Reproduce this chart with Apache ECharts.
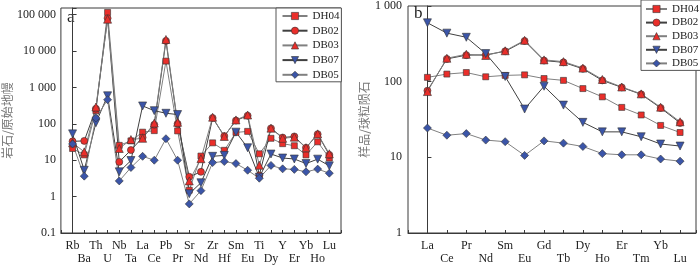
<!DOCTYPE html>
<html><head><meta charset="utf-8">
<script src="https://cdn.jsdelivr.net/npm/echarts@6/dist/echarts.min.js"></script>
<style>html,body{margin:0;padding:0;background:#fff}#c{width:700px;height:266px}</style>
</head><body><div id="c"></div>
<script>
// Panel a: primitive-mantle normalised spider diagram
const catsA = ['Rb','Ba','Th','U','Nb','Ta','La','Ce','Pb','Pr','Sr','Nd','Zr','Hf','Sm','Eu','Ti','Dy','Y','Er','Yb','Ho','Lu'];
const aDH04 = [21,14,230,115000,25.6,34,59,65,5300,64,1.5,13,30,18.7,58,62,15,40,28.5,25,14,32,11.5];
const aDB02 = [33,34,260,80000,9,19,42,95,19000,100,3.5,4.8,145,46,123,168,3.8,75,42,45,22,52,14];
const aDB03 = [30,17,290,75000,21,37,40,105,20800,110,2.7,11,152,45,128,175,7.3,76,40,43,22,53,15];
const aDB07 = [53,5.3,107,590,4.8,9.8,310,230,195,180,1.2,2.4,12.8,13.6,59,22,3.4,14.8,11.5,10.8,8.1,10.7,7];
const aDB05 = [28,3.65,145,460,2.7,6.3,12.8,10,39,10,0.63,1.46,8.6,9.2,8.1,5.3,3.2,7.2,5.8,5.6,4.8,5.7,4.4];
const yTicksA = [0.1,1,10,100,1000,10000,100000];

// Panel b: chondrite normalised REE patterns
const catsB = ['La','Ce','Pr','Nd','Sm','Eu','Gd','Tb','Dy','Ho','Er','Tm','Yb','Lu'];
const bDH04 = [114,126,132,116,121,123,110,104,81,63,45.7,36.3,26.4,21.3];
const bDB02 = [76,200,224,226,252,345,190,180,148,104,84,68,45,28.5];
const bDB03 = [74,204,230,222,256,352,194,184,151,107,85,69,46,29.5];
const bDB07 = [600,438,386,235,117,43.5,87,49,29,21.7,21.7,18.7,15,14.1];
const bDB05 = [24.4,19.6,20.6,16.9,16.1,10.6,16.5,15.4,13.9,11.2,10.8,10.8,9.5,8.9];
const yTicksB = [1,10,100,1000];

const names = ['DH04','DB02','DB03','DB07','DB05'];
const RED = '#ea2e2a', BLUE = '#3b55a8';
const styles = {
  DH04:{symbol:'rect',size:6,fill:RED,line:'#808080',rot:0},
  DB02:{symbol:'circle',size:7,fill:RED,line:'#404040',rot:0},
  DB03:{symbol:'triangle',size:8,fill:RED,line:'#808080',rot:0},
  DB07:{symbol:'triangle',size:8,fill:BLUE,line:'#404040',rot:180},
  DB05:{symbol:'diamond',size:8,fill:BLUE,line:'#808080',rot:0}
};
const SERIF = '"Liberation Serif","Times New Roman",serif';
const CJK = '"Noto Sans CJK SC",sans-serif';
const AX = '#3a3a3a';

function fmtNum(v){
  if (v < 1) return String(Math.round(v*10)/10);
  const s = String(Math.round(v));
  return s.replace(/\B(?=(\d{3})+(?!\d))/g, ' ');
}
function logLabel(ticks){
  return function(v){
    for (const t of ticks) if (Math.abs(Math.log10(v) - Math.log10(t)) < 1e-6) return fmtNum(t);
    return '';
  };
}
function catLabel(cats){
  return function(v){
    const i = Math.round(v);
    if (Math.abs(v - i) > 1e-6 || i < 0 || i >= cats.length) return '';
    return i % 2 ? '\n' + cats[i] : cats[i];
  };
}
function mkSeries(name, arr, idx){
  const s = styles[name];
  return {
    name, type:'line', xAxisIndex:idx, yAxisIndex:idx,
    data: arr.map((v,i)=>[i,v]),
    symbol:s.symbol, symbolSize:s.size, symbolRotate:s.rot,
    lineStyle:{color:s.line,width:1},
    itemStyle:{color:s.fill,borderColor:'#333',borderWidth:0.6},
    emphasis:{disabled:true}, animation:false, clip:false
  };
}
const dataA = {DH04:aDH04,DB02:aDB02,DB03:aDB03,DB07:aDB07,DB05:aDB05};
const dataB = {DH04:bDH04,DB02:bDB02,DB03:bDB03,DB07:bDB07,DB05:bDB05};

const xCommon = {
  type:'value', interval:1,
  axisLine:{show:true,lineStyle:{color:AX,width:1}},
  axisTick:{show:true,inside:true,length:3,lineStyle:{color:AX}},
  splitLine:{show:false},
  axisLabel:{fontFamily:SERIF,fontSize:12,color:'#222',margin:6,lineHeight:13.5,showMinLabel:true,showMaxLabel:true}
};
const yCommon = {
  type:'log', logBase:10,
  axisLine:{show:true,lineStyle:{color:AX,width:1}},
  axisTick:{show:true,inside:true,length:4,lineStyle:{color:AX}},
  splitLine:{show:false},
  nameLocation:'middle', nameRotate:90,
  nameTextStyle:{fontFamily:CJK,fontSize:12,color:'#777'}
};
const legendCommon = {
  data:names, orient:'vertical',
  borderColor:'#555', borderWidth:1, backgroundColor:'#fff',
  textStyle:{fontFamily:SERIF,fontSize:11,color:'#222',lineHeight:12},
  itemStyle:{borderWidth:0.6,borderColor:'#333'},
  itemHeight:9, itemWidth:25, selectedMode:false
};

const chart = echarts.init(document.getElementById('c'), null, {renderer:'canvas'});
chart.setOption({
  animation:false,
  grid:[
    {left:59, top:8, width:282, height:227, show:true, borderColor:AX, borderWidth:1},
    {left:408, top:3, width:288, height:232, show:true, borderColor:AX, borderWidth:1}
  ],
  xAxis:[
    Object.assign({}, xCommon, {gridIndex:0, min:-1, max:23, axisLabel:Object.assign({}, xCommon.axisLabel, {formatter:catLabel(catsA)})}),
    Object.assign({}, xCommon, {gridIndex:1, min:-1, max:13.82, axisLabel:Object.assign({}, xCommon.axisLabel, {formatter:catLabel(catsB)})})
  ],
  yAxis:[
    Object.assign({}, yCommon, {gridIndex:0, min:0.1, max:Math.pow(10,5.183), splitNumber:6, name:'岩石/原始地幔', nameGap:44,
      axisLabel:{fontFamily:SERIF,fontSize:12,color:'#222',margin:5,formatter:logLabel(yTicksA),showMaxLabel:true,showMinLabel:true}}),
    Object.assign({}, yCommon, {gridIndex:1, min:1, max:1000, splitNumber:3, name:'样品/球粒陨石', nameGap:38,
      axisLabel:{fontFamily:SERIF,fontSize:12,color:'#222',margin:6,formatter:logLabel(yTicksB),showMaxLabel:true,showMinLabel:true}})
  ],
  legend:[
    Object.assign({}, legendCommon, {left:276, top:8, itemGap:2.7, itemWidth:25, padding:[2,2,1,5.5]}),
    Object.assign({}, legendCommon, {left:641, top:0, itemGap:1.6, itemWidth:21, padding:[3,2,1,4]})
  ],
  graphic:[
    {type:'text', left:67, top:9, style:{text:'a', font:'17px '+SERIF, fill:'#222'}},
    {type:'text', left:414, top:5, style:{text:'b', font:'17px '+SERIF, fill:'#222'}}
  ],
  series: names.map(n=>mkSeries(n,dataA[n],0)).concat(names.map(n=>mkSeries(n,dataB[n],1)))
});
</script></body></html>
